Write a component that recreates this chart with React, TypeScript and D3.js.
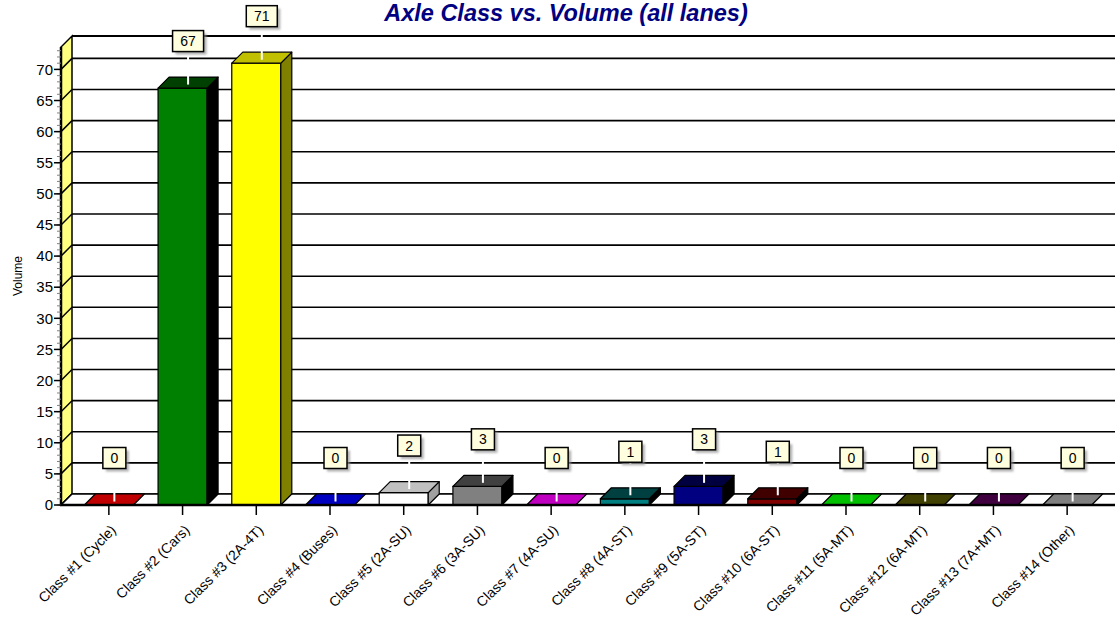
import React from "react";
import * as d3 from "d3";

const categories = [
  "Class #1 (Cycle)",
  "Class #2 (Cars)",
  "Class #3 (2A-4T)",
  "Class #4 (Buses)",
  "Class #5 (2A-SU)",
  "Class #6 (3A-SU)",
  "Class #7 (4A-SU)",
  "Class #8 (4A-ST)",
  "Class #9 (5A-ST)",
  "Class #10 (6A-ST)",
  "Class #11 (5A-MT)",
  "Class #12 (6A-MT)",
  "Class #13 (7A+MT)",
  "Class #14 (Other)",
];
const values = [0, 67, 71, 0, 2, 3, 0, 1, 3, 1, 0, 0, 0, 0];
const yTicks = [0, 5, 10, 15, 20, 25, 30, 35, 40, 45, 50, 55, 60, 65, 70];

// face colours per class: front, top, side
const frontColors = ["#ff0000", "#008000", "#ffff00", "#0000ff", "#ffffff", "#808080", "#ff00ff", "#008080", "#000080", "#800000", "#00ff00", "#808000", "#800080", "#c0c0c0"];
const topColors = ["#c00000", "#004000", "#c0c000", "#0000c0", "#c0c0c0", "#404040", "#c000c0", "#004040", "#000040", "#400000", "#00c000", "#404000", "#400040", "#808080"];
const sideColors = ["#800000", "#000000", "#808000", "#000080", "#a0a0a0", "#000000", "#800080", "#000000", "#000000", "#000000", "#008000", "#000000", "#000000", "#404040"];

const W = 1115;
const H = 621;
const D = 11; // 3d depth offset
const axisX = 61;

const App = () => {
  const x = d3.scaleBand().domain(categories).range([72, 1104]);
  const y = d3.scaleLinear().domain([0, 73.6]).range([505, 47]);
  const y0 = y(0);
  const barW = x.bandwidth() * 0.665;
  const minor = d3.range(0, 74, 1);
  const fmt = d3.format("d");

  return (
    <svg
      width={W}
      height={H}
      style={{ position: "absolute", left: 0, top: 0, background: "#fff" }}
      fontFamily="Arial, 'Liberation Sans', sans-serif"
    >
      <defs>
        <filter id="shadow" x="-20%" y="-20%" width="150%" height="150%">
          <feGaussianBlur stdDeviation="1" />
        </filter>
      </defs>

      {/* title */}
      <text
        x={566}
        y={21}
        textAnchor="middle"
        fontSize={23.5}
        fontWeight="bold"
        fontStyle="italic"
        fill="#000080"
      >
        Axle Class vs. Volume (all lanes)
      </text>

      {/* back wall grid */}
      {yTicks.map((t) => (
        <line key={"g" + t} x1={axisX + D} x2={W} y1={y(t) - D} y2={y(t) - D} stroke="#000" strokeWidth={1.6} />
      ))}
      <line x1={axisX + D} x2={W} y1={y(73.6) - D} y2={y(73.6) - D} stroke="#000" strokeWidth={2} />

      {/* left wall */}
      <polygon
        points={`${axisX},${y0} ${axisX},${y(73.6)} ${axisX + D},${y(73.6) - D} ${axisX + D},${y0 - D}`}
        fill="#ffff80"
        stroke="#000"
        strokeWidth={1.5}
      />
      {yTicks.map((t) => (
        <line key={"d" + t} x1={axisX} y1={y(t)} x2={axisX + D} y2={y(t) - D} stroke="#000" strokeWidth={1.5} />
      ))}

      {/* floor */}
      <polygon
        points={`${axisX},${y0} ${W + 20},${y0} ${W + 20},${y0 - D} ${axisX + D},${y0 - D}`}
        fill="#fff"
        stroke="#000"
        strokeWidth={1.5}
      />

      {/* y axis */}
      <line x1={axisX} x2={axisX} y1={y0 + 1} y2={y(73.6)} stroke="#000" strokeWidth={2.5} />
      {minor.map((t) => (
        <line key={"m" + t} x1={axisX - 4} x2={axisX} y1={y(t)} y2={y(t)} stroke="#808080" strokeWidth={1} />
      ))}
      {yTicks.map((t) => (
        <g key={"t" + t}>
          <line x1={axisX - 7} x2={axisX} y1={y(t)} y2={y(t)} stroke="#000" strokeWidth={1.5} />
          <text x={axisX - 8} y={y(t)} dy="0.35em" textAnchor="end" fontSize={15} fill="#000">
            {fmt(t)}
          </text>
        </g>
      ))}
      <text transform={`translate(22,276) rotate(-90)`} textAnchor="middle" fontSize={12} fill="#000">
        Volume
      </text>

      {/* bars */}
      {categories.map((c, i) => {
        const cx = (x(c) as number) + x.bandwidth() / 2;
        const x0 = cx - barW / 2;
        const x1 = cx + barW / 2;
        const yt = y(values[i]);
        return (
          <g key={"b" + c} stroke="#000" strokeWidth={1.2} strokeLinejoin="round">
            {values[i] > 0 && (
              <>
                <rect x={x0} y={yt} width={barW} height={y0 - yt} fill={frontColors[i]} />
                <polygon points={`${x1},${yt} ${x1},${y0} ${x1 + D},${y0 - D} ${x1 + D},${yt - D}`} fill={sideColors[i]} />
              </>
            )}
            <polygon points={`${x0},${yt} ${x1},${yt} ${x1 + D},${yt - D} ${x0 + D},${yt - D}`} fill={topColors[i]} />
          </g>
        );
      })}

      {/* x axis */}
      <line x1={axisX} x2={W} y1={y0} y2={y0} stroke="#000" strokeWidth={2.5} />
      {categories.map((c) => {
        const cx = (x(c) as number) + x.bandwidth() / 2;
        return (
          <g key={"x" + c}>
            <line x1={cx} x2={cx} y1={y0} y2={y0 + 10} stroke="#000" strokeWidth={1.5} />
            <text transform={`translate(${cx + 8},${y0 + 26}) rotate(-45)`} textAnchor="end" fontSize={14} fill="#000">
              {c}
            </text>
          </g>
        );
      })}

      {/* value callouts */}
      {categories.map((c, i) => {
        const cx = (x(c) as number) + x.bandwidth() / 2 + D / 2;
        const yc = y(values[i]) - D / 2;
        const label = fmt(values[i]);
        const bw = 15 + 8 * label.length;
        const bh = 21;
        const by = yc - 31 - bh;
        return (
          <g key={"l" + c}>
            <line x1={cx} x2={cx} y1={yc + 2} y2={by + bh} stroke="#fff" strokeWidth={2} />
            <rect x={cx - bw / 2 + 3} y={by + 3} width={bw} height={bh} fill="#909090" opacity={0.7} filter="url(#shadow)" />
            <rect x={cx - bw / 2} y={by} width={bw} height={bh} fill="#ffffe0" stroke="#000" strokeWidth={1.5} />
            <text x={cx} y={by + bh / 2} dy="0.36em" textAnchor="middle" fontSize={14} fill="#000">
              {label}
            </text>
          </g>
        );
      })}
    </svg>
  );
};

export default App;
